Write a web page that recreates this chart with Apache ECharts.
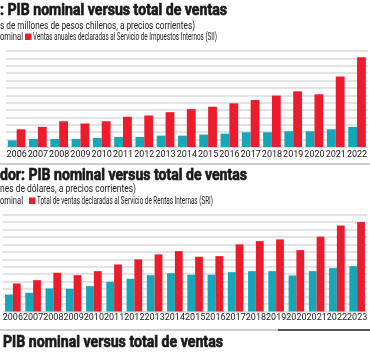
<!DOCTYPE html>
<html lang="es">
<head>
    <meta charset="UTF-8">
    <title>PIB nominal versus total de ventas</title>
    <script src="https://cdn.jsdelivr.net/npm/echarts@6/dist/echarts.min.js"></script>
    <style>
        html, body { margin: 0; padding: 0; background: #fff; }
        #main { width: 370px; height: 354px; }
    </style>
</head>
<body>
<div id="main"></div>

<script type="text/javascript">
    // Chile: miles de millones de pesos
    var yearsCL = ['2006', '2007', '2008', '2009', '2010', '2011', '2012', '2013', '2014',
        '2015', '2016', '2017', '2018', '2019', '2020', '2021', '2022'];
    var pibCL = [90000, 109000, 109000, 109000, 123000, 136000, 136000, 154000, 154000,
        168000, 181000, 199000, 199000, 213000, 213000, 240000, 273000];
    var ventasCL = [240000, 273000, 349000, 318000, 349000, 409000, 427000, 472000, 513000,
        546000, 591000, 636000, 696000, 754000, 714000, 955000, 1214000];

    // Ecuador: millones de dolares
    var yearsEC = ['2006', '2007', '2008', '2009', '2010', '2011', '2012', '2013', '2014',
        '2015', '2016', '2017', '2018', '2019', '2020', '2021', '2022', '2023'];
    var pibEC = [45600, 50200, 61700, 60900, 67900, 79700, 87800, 97400, 102800,
        98500, 98500, 105500, 108200, 108200, 96600, 108200, 116200, 121600];
    var ventasEC = [75200, 84000, 103900, 97400, 108200, 126100, 139600, 153000, 161800,
        146800, 148400, 179800, 188700, 193200, 164500, 200500, 230800, 239700];

    var TEAL = '#17a5b8';
    var RED = '#ec1c2d';
    var GRID_LINE = '#e3e3e3';

    // mide el texto para comprimirlo al ancho del original
    var ctx = document.createElement('canvas').getContext('2d');
    function txt(str, x, y, width, size, bold, color) {
        var font = (bold ? 'bold ' : '') + size + 'px Roboto';
        ctx.font = font;
        var w = ctx.measureText(str).width;
        var style = {
            text: str,
            font: font,
            fill: color || '#1a1a1a',
            textVerticalAlign: 'middle'
        };
        if (bold) {
            // titulos mas gruesos
            style.stroke = color || '#1a1a1a';
            style.lineWidth = 0.7;
        }
        return {type: 'text', x: x, y: y, scaleX: width / w, silent: true, style: style};
    }

    function hline(y, x1, x2, color, w) {
        return {
            type: 'line',
            silent: true,
            shape: {x1: x1, y1: y, x2: x2, y2: y},
            style: {stroke: color, lineWidth: w}
        };
    }

    var myChart = echarts.init(document.getElementById('main'));

    var yBase = {
        min: 0,
        axisLabel: {show: false},
        axisLine: {show: false},
        axisTick: {show: false},
        splitLine: {lineStyle: {color: GRID_LINE, width: 2}}
    };
    var xBase = {
        type: 'category',
        axisTick: {show: false},
        axisLine: {show: false},
        axisLabel: {fontFamily: 'Roboto', fontSize: 9, color: '#222', interval: 0}
    };

    var option = {
        animation: false,
        grid: [
            {left: 6, top: 51, width: 367, height: 96},
            {left: 0.6, top: 214.5, width: 373.5, height: 97}
        ],
        xAxis: [
            echarts.util.merge({gridIndex: 0, data: yearsCL, axisLabel: {margin: 3}}, xBase),
            echarts.util.merge({gridIndex: 1, data: yearsEC, axisLabel: {margin: 2}}, xBase)
        ],
        yAxis: [
            echarts.util.merge({gridIndex: 0, max: 1300000, interval: 100000}, yBase),
            echarts.util.merge({gridIndex: 1, max: 260000, interval: 20000}, yBase)
        ],
        series: [
            {type: 'bar', name: 'PIB nominal', xAxisIndex: 0, yAxisIndex: 0, data: pibCL,
                itemStyle: {color: TEAL}, barGap: 0, barCategoryGap: '17%'},
            {type: 'bar', name: 'Ventas SII', xAxisIndex: 0, yAxisIndex: 0, data: ventasCL,
                itemStyle: {color: RED}, barGap: 0, barCategoryGap: '17%'},
            {type: 'bar', name: 'PIB nominal', xAxisIndex: 1, yAxisIndex: 1, data: pibEC,
                itemStyle: {color: TEAL}, barGap: 0, barCategoryGap: '23%'},
            {type: 'bar', name: 'Ventas SRI', xAxisIndex: 1, yAxisIndex: 1, data: ventasEC,
                itemStyle: {color: RED}, barGap: 0, barCategoryGap: '23%'}
        ],
        graphic: [
            // Chile
            txt(': PIB nominal versus total de ventas', 0, 11, 227, 17, true),
            txt('s de millones de pesos chilenos, a precios corrientes)', 0, 26, 195, 10, false, '#222'),
            txt('ominal', 0, 37, 23, 10, false, '#222'),
            {type: 'rect', silent: true, shape: {x: 25, y: 33.5, width: 6.5, height: 6.5}, style: {fill: RED}},
            txt('Ventas anuales declaradas al Servicio de Impuestos Internos (SII)', 33, 37, 184, 10, false, '#222'),
            hline(164, 0, 370, '#cfcfcf', 2),
            // Ecuador
            txt('dor: PIB nominal versus total de ventas', 0, 176, 247, 17, true),
            txt('nes de dólares, a precios corrientes)', 0, 189, 136, 10, false, '#222'),
            txt('ominal', 0, 201, 23, 10, false, '#222'),
            {type: 'rect', silent: true, shape: {x: 29, y: 197.5, width: 6.5, height: 6.5}, style: {fill: RED}},
            txt('Total de ventas declaradas al Servicio de Rentas Internas (SRI)', 37, 201, 176, 10, false, '#222'),
            // siguiente grafico
            hline(330, 0, 370, '#cfcfcf', 2),
            hline(330, 278, 370, '#555', 2),
            txt('PIB nominal versus total de ventas', 3, 343, 220, 17, true)
        ]
    };

    myChart.setOption(option);
</script>
</body>
</html>
